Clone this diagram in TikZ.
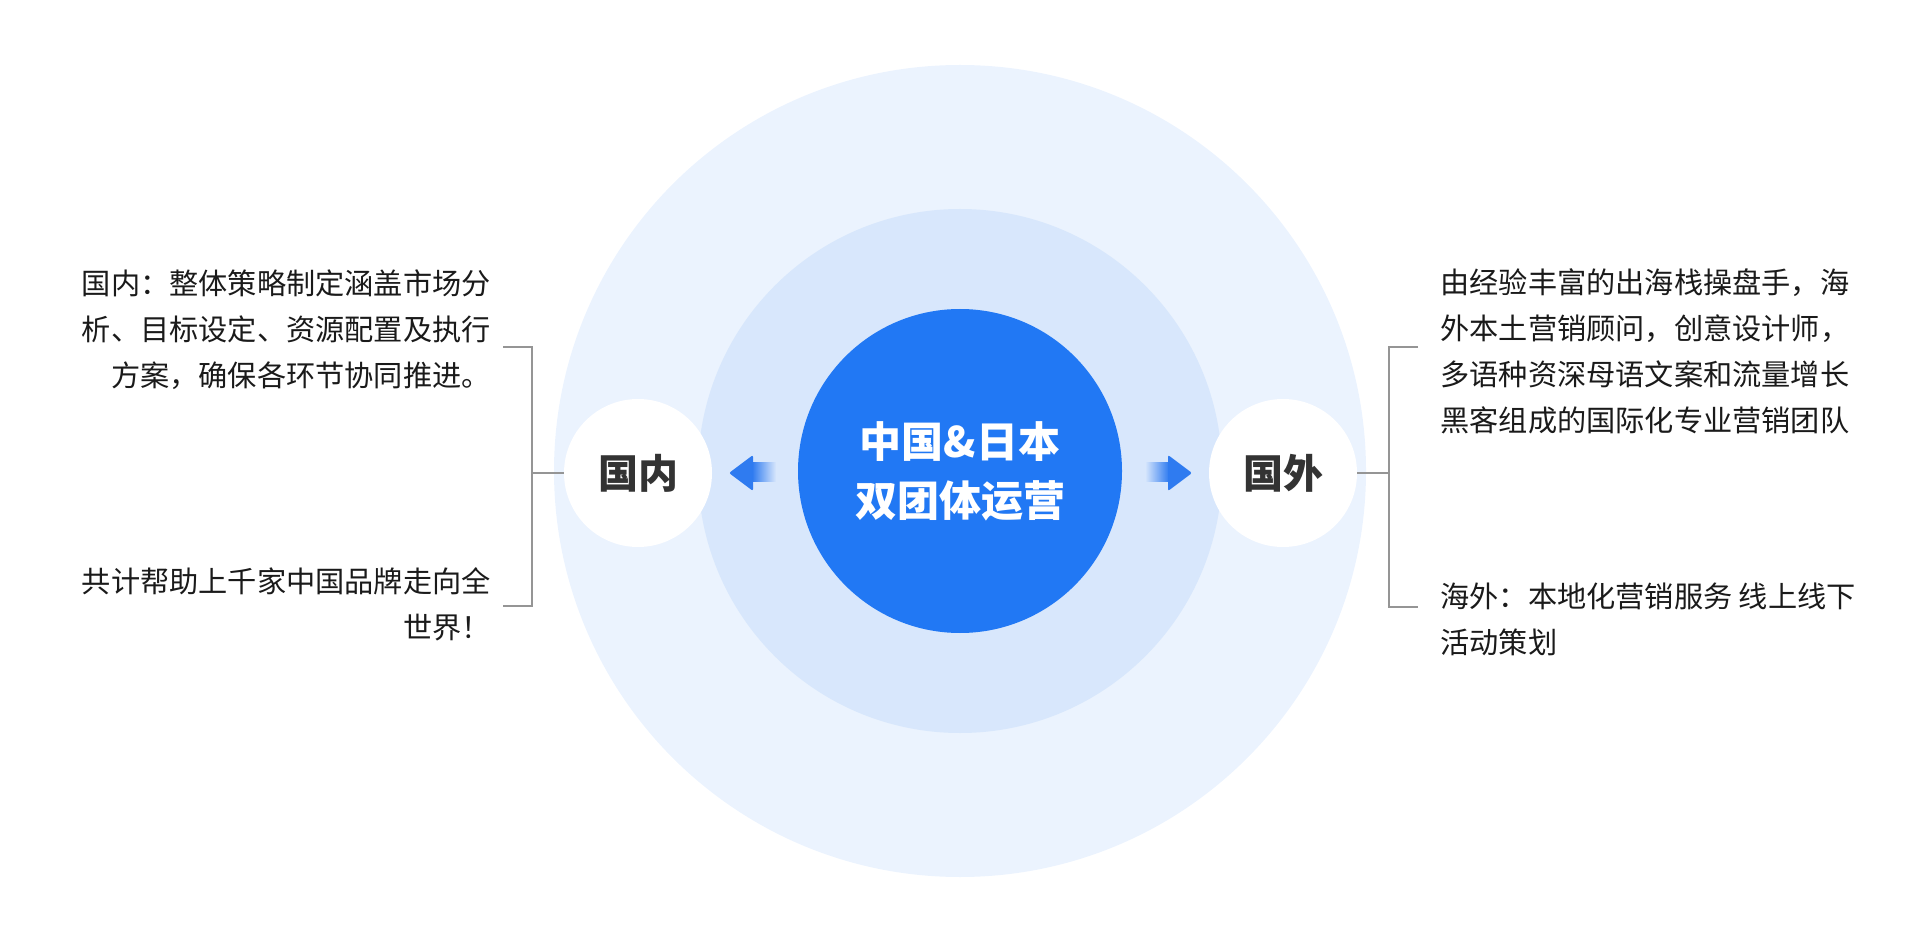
\documentclass[tikz,border=0pt]{standalone}
\usepackage{fontspec}
\newfontfamily\cjk{Noto Sans CJK SC}
\usepackage{tikz}

\definecolor{outerblue}{HTML}{EBF3FE}
\definecolor{midblue}{HTML}{D8E7FC}
\definecolor{coreblue}{HTML}{2178F4}
\definecolor{arrowblue}{HTML}{2F7BF0}
\definecolor{linegray}{HTML}{959595}
\definecolor{labeldark}{HTML}{333333}
\definecolor{bodytext}{HTML}{1A1A1A}

\begin{document}
\begin{tikzpicture}[
    x=0.5pt, y=-0.5pt,
    ring/.style={circle, inner sep=0pt, draw=none},
    side/.style={circle, fill=white, inner sep=0pt, minimum size=74pt, text=labeldark, font=\cjk\bfseries\fontsize{20}{24}\selectfont},
    desc/.style={inner sep=0pt, text=bodytext, font=\cjk\fontsize{14.6}{23}\selectfont},
    bracket/.style={draw=linegray, line width=1pt},
    head/.style={fill=arrowblue, rounded corners=1pt}
]
    \useasboundingbox (0,0) rectangle (1920,940);

    % Rings
    \node[ring, fill=outerblue, minimum size=406pt] (outer) at (960,471) {};
    \node[ring, fill=midblue, minimum size=262pt] (middle) at (960,471) {};
    \node[ring, fill=coreblue, minimum size=162pt, align=center, text=white,
          font=\cjk\bfseries\fontsize{21}{29.5}\selectfont] (core) at (960,471) {中国\&日本\\双团体运营};

    % Side circles
    \node[side] (dom) at (638,473) {国内};
    \node[side] (abroad) at (1283,473) {国外};

    % Arrows
    \shade[left color=arrowblue, right color=midblue] (752,463) rectangle (776,482);
    \fill[head] (753,455) -- (729,473) -- (753,491) -- cycle;
    \shade[left color=midblue, right color=arrowblue] (1145,463) rectangle (1169,482);
    \fill[head] (1168,455) -- (1192,473) -- (1168,491) -- cycle;

    % Brackets
    \coordinate (dtop) at (503,347);
    \coordinate (dbot) at (503,606);
    \coordinate (dbar) at (532,475);
    \draw[bracket] (dtop) -- ++(29,0) |- (dbot);
    \draw[bracket] (dom.west) -- (dom.west -| dbar);
    \coordinate (atop) at (1418,347);
    \coordinate (abot) at (1418,607);
    \coordinate (abar) at (1389,475);
    \draw[bracket] (atop) -- ++(-29,0) |- (abot);
    \draw[bracket] (abroad.east) -- (abroad.east -| abar);

    % Texts
    \node[desc, align=right, anchor=east] (domplan) at (491,330) {国内：整体策略制定涵盖市场分\\析、目标设定、资源配置及执行\\方案，确保各环节协同推进。};
    \node[desc, align=right, anchor=east] (domgoal) at (491,604) {共计帮助上千家中国品牌走向全\\世界！};
    \node[desc, align=left, anchor=west] (abteam) at (1440,351) {由经验丰富的出海栈操盘手，海\\外本土营销顾问，创意设计师，\\多语种资深母语文案和流量增长\\黑客组成的国际化专业营销团队};
    \node[desc, align=left, anchor=west] (abserv) at (1440,619) {海外：本地化营销服务 线上线下\\活动策划};

\end{tikzpicture}
\end{document}
